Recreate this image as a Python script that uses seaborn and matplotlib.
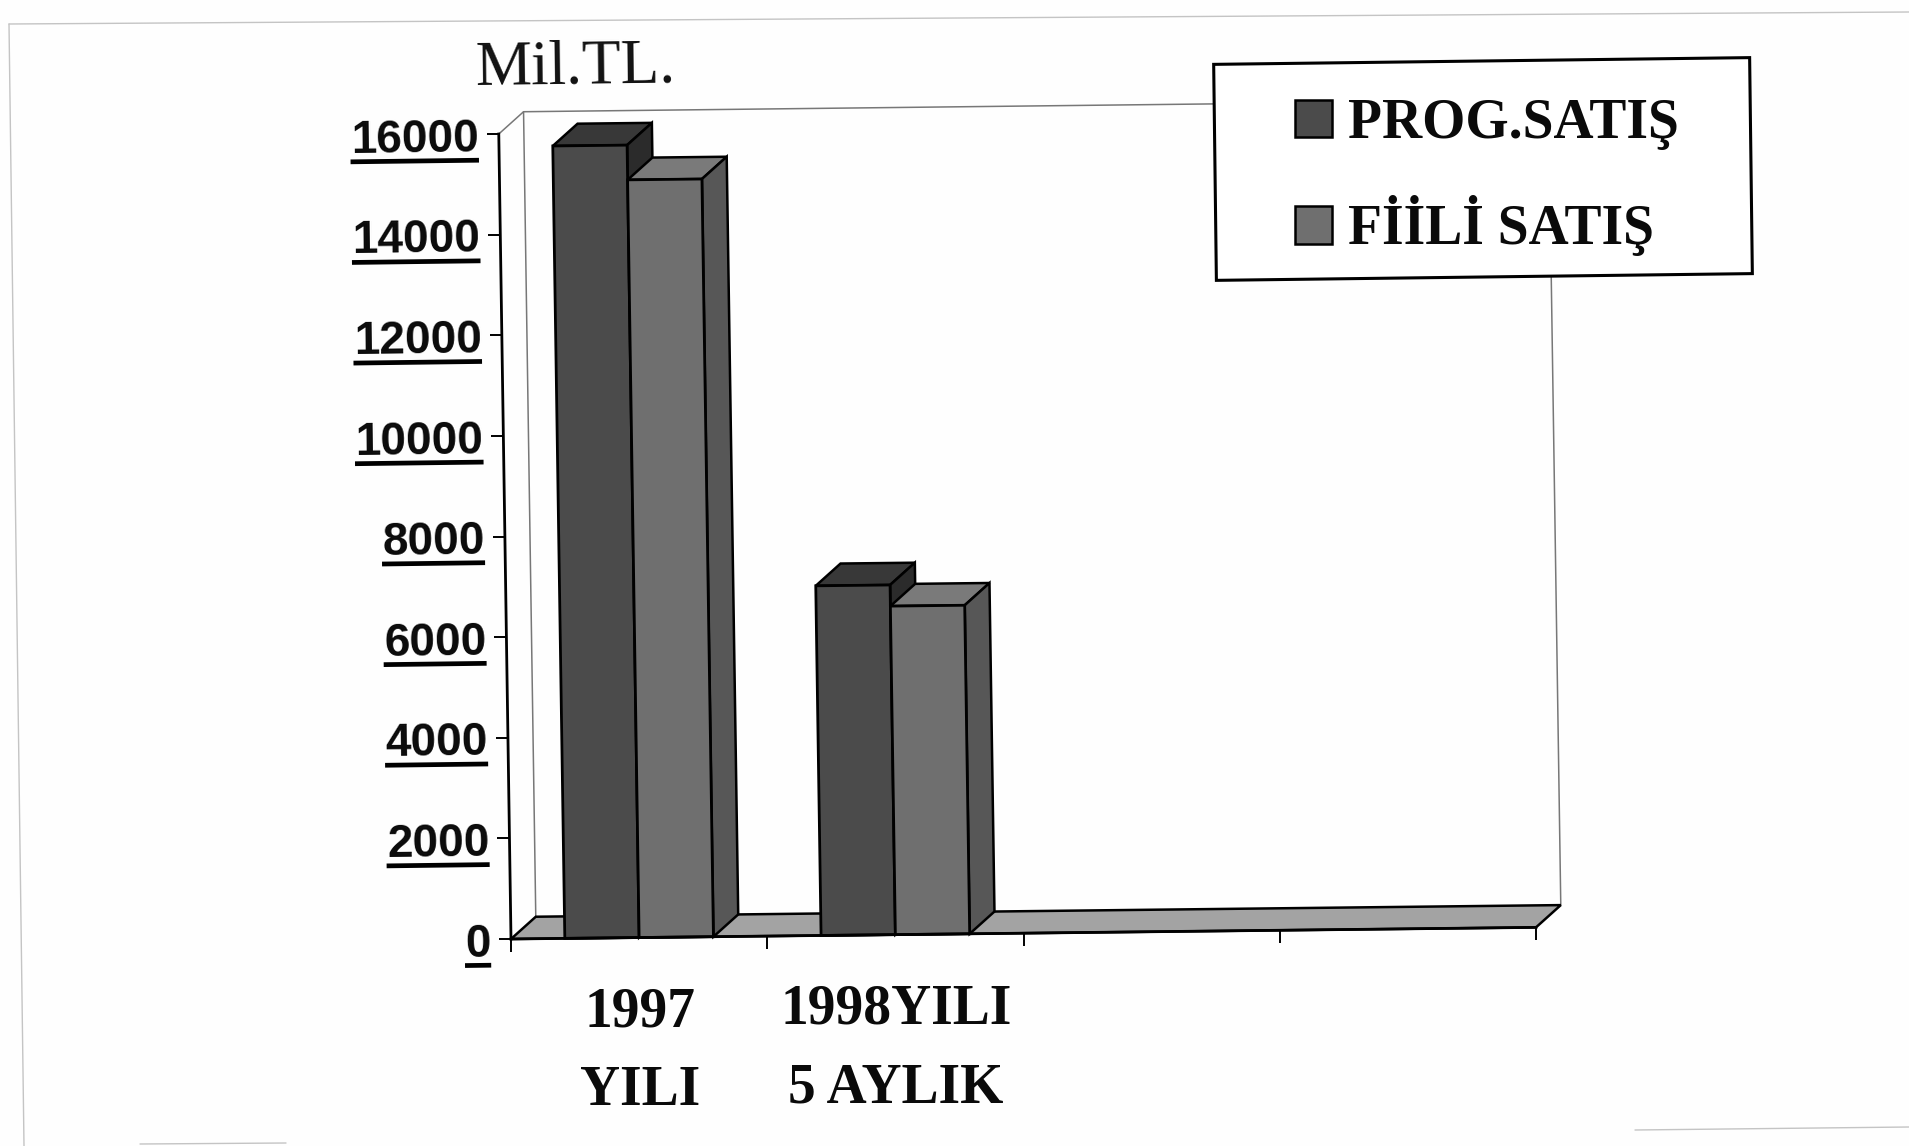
import matplotlib
matplotlib.use('Agg')
import matplotlib.pyplot as plt
import pandas as pd
import seaborn as sns
from matplotlib.lines import Line2D
from matplotlib.patches import Polygon, Rectangle
from matplotlib.transforms import Affine2D, IdentityTransform

# data
categories = ['1997\nYILI', '1998YILI\n5 AYLIK', ' ', '  ']
prog_satis = [15750, 6950]
fiili_satis = [15060, 6530]
series_names = ['PROG.SATIŞ', 'FİİLİ SATIŞ']
y_ticks = [0, 2000, 4000, 6000, 8000, 10000, 12000, 14000, 16000]

W, H = 1909, 1146
DEPTH_X, DEPTH_Y = 0.098, 437   # fake 3D depth, in data units
SKEW = 0.72                     # the page was scanned slightly crooked

FRONT = {series_names[0]: '#4b4b4b', series_names[1]: '#6f6f6f'}
TOP = {series_names[0]: '#383838', series_names[1]: '#7a7a7a'}
SIDE = {series_names[0]: '#2b2b2b', series_names[1]: '#575757'}
FLOOR = '#a3a3a3'
PAGE_BG = '#fefefe'
WALL = '#777777'
SERIF = 'Liberation Serif'
SANS = 'Liberation Sans'

sns.set_style('white')
plt.rcParams['font.family'] = [SERIF, 'DejaVu Sans']

df = pd.DataFrame({
    'cat': categories[:2] * 2,
    'series': [series_names[0]] * 2 + [series_names[1]] * 2,
    'val': prog_satis + fiili_satis,
})

fig = plt.figure(figsize=(W / 100, H / 100), dpi=100, facecolor=PAGE_BG)
ax = fig.add_axes([511 / W, (H - 939) / H, 1025 / W, 805 / H])
ax.set_facecolor('none')

sns.barplot(data=df, x='cat', y='val', hue='series', order=categories,
            hue_order=series_names, palette=FRONT, width=0.58, gap=0,
            saturation=1, edgecolor='black', linewidth=2, ax=ax)
ax.set_xlim(-0.5, 3.5)
ax.set_ylim(0, 16000)
ax.set_xlabel('')
ax.set_ylabel('')
sns.despine(ax=ax)
ax.legend_.remove()

rot = Affine2D().translate(-511, -(H - 939)).skew_deg(-0.87, 0.65).translate(511, H - 939)
data_tr = ax.transData + rot
x0, x1 = -0.5, 3.5

# walls and floor
ax.plot([x0, x0 + DEPTH_X, x1 + DEPTH_X, x1 + DEPTH_X],
        [16000, 16000 + DEPTH_Y, 16000 + DEPTH_Y, DEPTH_Y],
        color=WALL, lw=1.1, clip_on=False, zorder=0.5, transform=data_tr)
ax.plot([x0 + DEPTH_X, x0 + DEPTH_X], [16000 + DEPTH_Y, DEPTH_Y],
        color=WALL, lw=1.1, clip_on=False, zorder=0.5, transform=data_tr)
floor = Polygon([(x0, 0), (x0 + DEPTH_X, DEPTH_Y), (x1 + DEPTH_X, DEPTH_Y), (x1, 0)],
                facecolor=FLOOR, edgecolor='black', lw=1.8, clip_on=False, zorder=1,
                transform=data_tr)
ax.add_patch(floor)

# give each bar a top and a side face
bars = [p for p in ax.patches if isinstance(p, Rectangle) and p.get_height() > 0]
bars = sorted(bars, key=lambda p: p.get_x())
for i, bar in enumerate(bars):
    name = series_names[i % 2]
    xl, xr, h = bar.get_x(), bar.get_x() + bar.get_width(), bar.get_height()
    z = 2 + i * 0.1
    top = Polygon([(xl, h), (xl + DEPTH_X, h + DEPTH_Y), (xr + DEPTH_X, h + DEPTH_Y), (xr, h)],
                  facecolor=TOP[name], edgecolor='black', lw=1.8, clip_on=False, zorder=z,
                  transform=data_tr)
    side = Polygon([(xr, 0), (xr + DEPTH_X, DEPTH_Y), (xr + DEPTH_X, h + DEPTH_Y), (xr, h)],
                   facecolor=SIDE[name], edgecolor='black', lw=1.8, clip_on=False, zorder=z,
                   transform=data_tr)
    ax.add_patch(top)
    ax.add_patch(side)
    bar.set_zorder(z + 0.05)
    bar.set_clip_on(False)
    bar.set_transform(data_tr)

# axes
ax.set_yticks(y_ticks, [str(v) for v in y_ticks])
ax.set_xticks(range(len(categories)), categories)
ax.set_xticks([-0.5, 0.5, 1.5, 2.5, 3.5], minor=True)
ax.tick_params(axis='y', length=8.5, width=1.4, color='black', pad=6, left=True)
ax.tick_params(axis='x', which='major', length=0, pad=35, bottom=False)
ax.tick_params(axis='x', which='minor', length=9.5, width=1.4, color='black', bottom=True)
for name in ['left', 'bottom']:
    spine = ax.spines[name]
    spine.set_linewidth(2)
    spine.set_color('black')
    spine.set_zorder(6)
    spine.set_transform(spine.get_transform() + rot)

for tick in ax.yaxis.get_major_ticks():
    tick.tick1line.set_transform(tick.tick1line.get_transform() + rot)
    tick.label1.set_transform(tick.label1.get_transform() + rot)
    tick.label1.set(family=SANS, weight='bold', size=33, rotation=SKEW,
                    rotation_mode='anchor', color='#0a0a0a')
for tick in ax.xaxis.get_minor_ticks():
    tick.tick1line.set_transform(tick.tick1line.get_transform() + rot)
for tick in ax.xaxis.get_major_ticks():
    tick.label1.set_transform(tick.label1.get_transform() + rot)
    tick.label1.set(family=SERIF, weight='bold', size=40, linespacing=1.68,
                    color='#0a0a0a')

fig.text(475 / W, (H - 85) / H, 'Mil.TL.', family=SERIF, size=45.5, color='#111111',
         rotation=SKEW, rotation_mode='anchor')

# legend, its frame is a separate box because the legend pads are too coarse
fig_rot = fig.transFigure + Affine2D().rotate_deg_around(1482, H - 168, SKEW)
ax.add_patch(Rectangle((1215 / W, (H - 277) / H), 536 / W, 216 / H, facecolor='white',
                       edgecolor='black', lw=2.2, clip_on=False, zorder=7,
                       transform=fig_rot))
handles = [Rectangle((0, 0), 1, 1, facecolor=FRONT[n], edgecolor='black', lw=1.8)
           for n in series_names]
leg = ax.legend(handles, series_names, loc='center left', frameon=False,
                bbox_to_anchor=(1295 / W, (H - 177) / H), bbox_transform=fig.transFigure,
                borderpad=0, borderaxespad=0, labelspacing=0.82, handlelength=0.66,
                handleheight=0.66, handletextpad=0.3, labelcolor='#0a0a0a',
                prop={'family': SERIF, 'weight': 'bold', 'size': 40})
leg.set_zorder(8)

# thick underlines below the y labels
fig.canvas.draw()
renderer = fig.canvas.get_renderer()
for tick in ax.yaxis.get_major_ticks():
    bb = tick.label1.get_window_extent(renderer)
    slope = (bb.x1 - bb.x0) * 0.0126
    fig.add_artist(Line2D([bb.x0, bb.x1], [bb.y0 + 1, bb.y0 + 1 + slope], color='black',
                          lw=3.4, solid_capstyle='butt', transform=IdentityTransform()))

# leftovers of the scanned page frame
page_lines = [
    ([9, 24], [24, 1146]),
    ([9, 1909], [24, 12]),
    ([1635, 1909], [1130, 1127]),
    ([140, 286], [1144, 1143]),
]
for xs, ys in page_lines:
    fig.add_artist(Line2D(xs, [H - y for y in ys], color='#c4c4c4', lw=1,
                          transform=IdentityTransform()))

fig.savefig('out.png', dpi=100, facecolor=PAGE_BG)
